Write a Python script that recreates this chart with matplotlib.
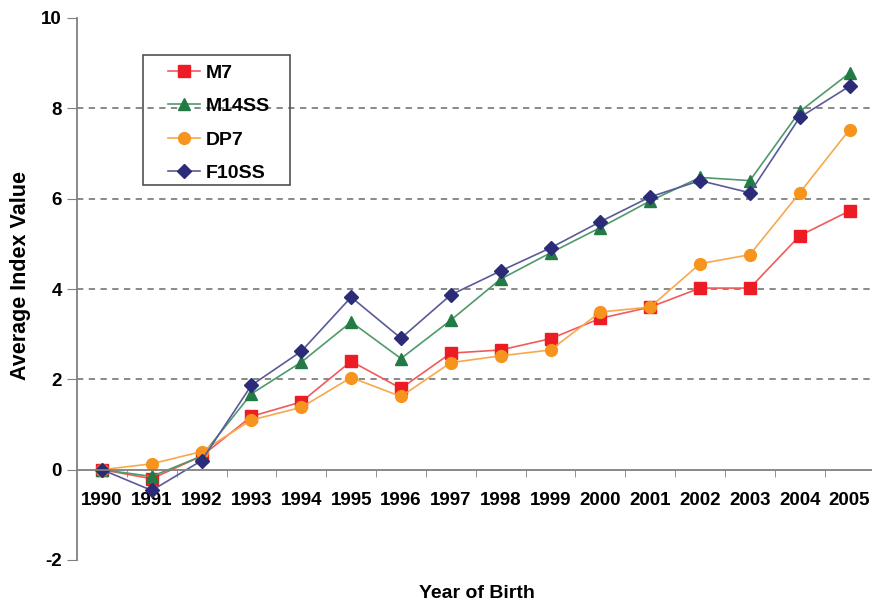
import matplotlib
matplotlib.use("Agg")
import matplotlib.pyplot as plt
from matplotlib.patches import Rectangle
import numpy as np

years = [str(y) for y in range(1990, 2006)]
m7 = [0, -0.2, 0.3, 1.18, 1.5, 2.4, 1.8, 2.58, 2.65, 2.9, 3.35, 3.6, 4.02, 4.02, 5.18, 5.73]
m14ss = [0, -0.15, 0.3, 1.68, 2.38, 3.27, 2.46, 3.31, 4.22, 4.8, 5.36, 5.95, 6.47, 6.4, 7.93, 8.78]
dp7 = [0, 0.13, 0.4, 1.1, 1.38, 2.04, 1.62, 2.37, 2.52, 2.65, 3.49, 3.6, 4.56, 4.76, 6.13, 7.53]
f10ss = [0, -0.46, 0.2, 1.87, 2.62, 3.82, 2.91, 3.87, 4.4, 4.91, 5.49, 6.04, 6.4, 6.13, 7.8, 8.49]
yticks = [-2, 0, 2, 4, 6, 8, 10]
gridvals = [2, 4, 6, 8]

plt.rcParams['font.family'] = ['Liberation Sans', 'DejaVu Sans']
plt.rcParams['font.weight'] = 'bold'

W, H = 872, 606
fig = plt.figure(figsize=(W / 100, H / 100), dpi=100)
ax = fig.add_axes([77 / W, 1 - 560 / H, 1 - 77 / W, (560 - 18) / H])
x = np.arange(len(years))

series = [
    ("M7", m7, 's', '#ED1C24', '#F25A5A', 8),
    ("M14SS", m14ss, '^', '#237A45', '#4E9A6A', 8),
    ("DP7", dp7, 'o', '#F7941D', '#F8A84C', 8.5),
    ("F10SS", f10ss, 'D', '#2B2B78', '#5A5A9A', 7),
]
for name, vals, mk, mc, lc, ms in series:
    ax.plot(x, vals, color=lc, lw=1.2, marker=mk, ms=ms, mfc=mc, mec=mc, label=name)

for g in gridvals:
    ax.axhline(g, color='#808080', lw=1.3, ls=(0, (3.5, 3)), zorder=0)

ax.set_xlim(-0.5, len(years) - 0.55)
ax.set_ylim(-2, 10)
ax.set_yticks(yticks)
ax.set_yticklabels([str(v) for v in yticks])
ax.set_xticks(x)
ax.set_xticks(x[:-1] + 0.5, minor=True)
ax.set_xticklabels(years)
ax.tick_params(axis='both', which='major', labelsize=13.5)
ax.tick_params(axis='x', which='major', length=0, pad=16)
ax.tick_params(axis='x', which='minor', length=5, color='#808080', direction='out')
ax.tick_params(axis='y', length=7, color='#808080', direction='out', pad=4)
for lab in ax.get_xticklabels() + ax.get_yticklabels():
    lab.set_fontweight('bold')
    lab.set_fontsize(13.5)

for s in ['top', 'right']:
    ax.spines[s].set_visible(False)
ax.spines['bottom'].set_position(('data', 0))
ax.spines['bottom'].set_color('#808080')
ax.spines['left'].set_color('#808080')
ax.spines['bottom'].set_linewidth(1.3)
ax.spines['left'].set_linewidth(1.3)

fig.text(21 / W, 1 - 276 / H, "Average Index Value", rotation=90, ha='center', va='center',
         fontsize=15.5, fontweight='bold')
fig.text(477 / W, 1 - 593 / H, "Year of Birth", ha='center', va='center',
         fontsize=14, fontweight='bold')

leg = ax.legend(loc='upper left', bbox_to_anchor=(168 / W, 1 - 64 / H),
                bbox_transform=fig.transFigure, frameon=False, borderpad=0,
                borderaxespad=0, handlelength=1.65, handletextpad=0.3, labelspacing=0.82,
                prop={'weight': 'bold', 'size': 14})
fig.add_artist(Rectangle((143 / W, 1 - 185 / H), 147 / W, 130 / H, transform=fig.transFigure,
                         facecolor='none', edgecolor='#505050', lw=1.2))

fig.savefig("out.png", dpi=100)
